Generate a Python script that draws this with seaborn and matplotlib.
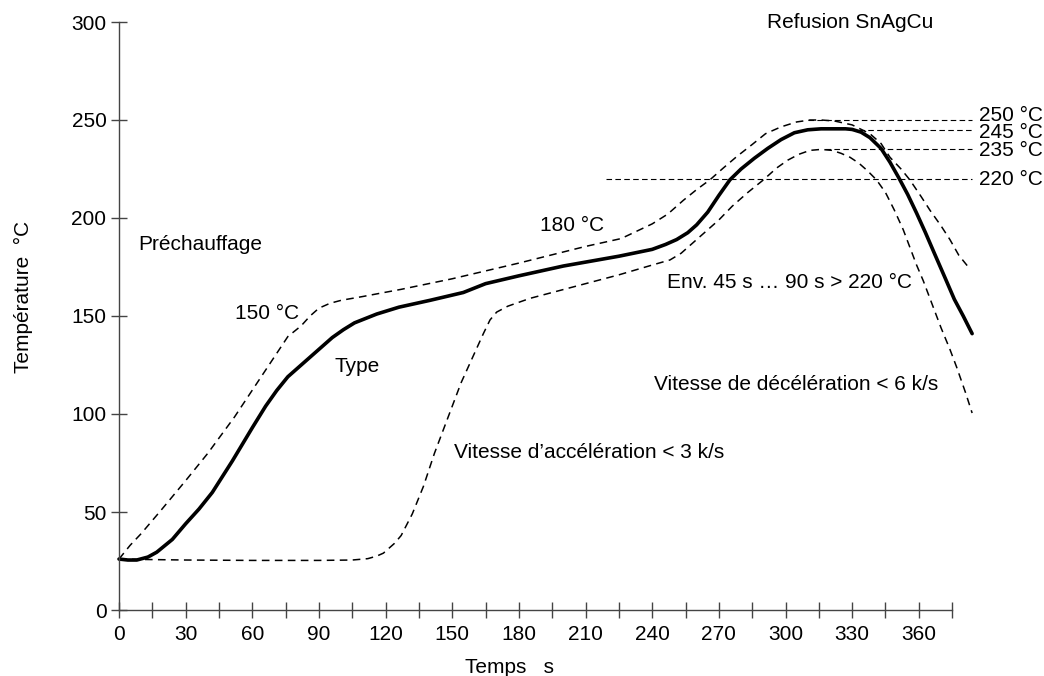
import pandas as pd
import seaborn as sns
import matplotlib.pyplot as plt

# temperature profile values (time s, temperature °C)
type_t = [0, 4, 8, 13, 17, 24, 30, 36, 42, 51, 60, 66, 71, 76, 81, 89, 96, 101, 106,
          116, 126, 140, 155, 165, 180, 200, 225, 240, 246, 251, 256, 260, 265, 270,
          275, 280, 286, 292, 298, 304, 310, 316, 322, 327, 330, 334, 338, 343, 347,
          351, 355, 359, 363, 367, 372, 376, 380, 384]
type_temp = [26, 25.5, 25.5, 27, 29.5, 36, 44, 51.5, 60, 76, 93, 104, 112, 119, 124,
             132, 139, 143, 146.5, 151, 154.5, 158, 162, 166.5, 170.5, 175.5, 180.5,
             184, 186.5, 189, 192.5, 196.5, 203, 211.5, 219.5, 225, 230.5, 235.5, 240,
             243.5, 245, 245.5, 245.5, 245.5, 245.2, 243.8, 241, 235.5, 228.5, 220.5,
             212, 202.5, 192.5, 182, 169, 158.5, 150, 141]

upper_t = [0, 5, 10, 19, 30, 40, 52, 64, 76, 82, 86, 90, 95, 100, 110, 118, 127, 150,
           180, 210, 226, 240, 247, 254, 260, 266, 272, 278, 285, 291, 298, 305, 311,
           316, 322, 330, 338, 343, 347, 352, 356, 361, 365, 370, 374, 378, 383]
upper_temp = [26, 33, 39, 51, 66, 80, 98.5, 119, 139.5, 145, 150, 154, 156.5, 158,
              160, 161.7, 163.6, 169, 177, 185.5, 189.5, 197, 202, 209, 214.5, 219.5,
              225.5, 231.3, 237.5, 243, 246.5, 249, 250, 250, 249.5, 247.5, 243, 238,
              231, 225, 219.4, 211, 204, 196, 189, 181, 174]

lower_t = [0, 10, 30, 60, 90, 105, 112, 116, 119, 121, 124, 127, 132, 137, 142, 148,
           154, 160, 164, 167, 170, 175, 185, 200, 225, 240, 248, 253, 258, 264, 270,
           276, 283, 290, 296, 301, 306, 311, 316, 321, 325, 329, 333, 337, 341, 345,
           349, 353, 356, 359, 362, 366, 370, 374, 377, 381, 384]
lower_temp = [26, 25.8, 25.5, 25.3, 25.3, 25.5, 26.2, 27.5, 29, 31, 34, 38, 49, 63,
              80, 98, 116, 131, 141, 148, 152, 155, 159, 163.5, 171, 176, 178.6, 182,
              187, 193, 199, 206, 213, 219.4, 225.5, 229.5, 232.5, 234.5, 235, 234.5,
              233, 231, 228, 224, 219.4, 213, 204, 194, 185, 176, 168, 156, 144, 133,
              124, 111, 100.5]

# reference temperature levels and where their dashed guides run
ref_levels = [250, 245, 235, 220]
ref_start = [310, 329, 318, 219]
ref_end = [384, 384, 384, 384]
ref_labels = ["250 °C", "245 °C", "235 °C", "220 °C"]
ref_label_y = [252.5, 243.5, 234.5, 219.5]

notes = [
    ("Refusion SnAgCu", 291.5, 300),
    ("Préchauffage", 8.5, 186.7),
    ("150 °C", 52, 151.5),
    ("Type", 97, 124),
    ("180 °C", 189.5, 196),
    ("Env. 45 s … 90 s > 220 °C", 246.6, 167),
    ("Vitesse de décélération < 6 k/s", 241, 115.3),
    ("Vitesse d’accélération < 3 k/s", 151, 80.6),
]

FS = 15


def main():
    sns.set_style("ticks")
    plt.rcParams["font.family"] = ["Liberation Sans", "DejaVu Sans"]
    plt.rcParams["font.size"] = FS
    plt.rcParams["text.color"] = "black"
    plt.rcParams["axes.labelcolor"] = "black"

    fig = plt.figure(figsize=(10.44, 6.76), dpi=100)
    ax = fig.add_axes([119 / 1044, 1 - 610 / 676, 922 / 1044, 588 / 676])

    df_type = pd.DataFrame({"t": type_t, "temp": type_temp})
    df_up = pd.DataFrame({"t": upper_t, "temp": upper_temp})
    df_lo = pd.DataFrame({"t": lower_t, "temp": lower_temp})

    # tolerance band (dashed) and typical profile (bold)
    sns.lineplot(data=df_up, x="t", y="temp", sort=False, ax=ax, color="black",
                 lw=1.1, clip_on=False).lines[-1].set_dashes((5, 3.5))
    sns.lineplot(data=df_lo, x="t", y="temp", sort=False, ax=ax, color="black",
                 lw=1.1, clip_on=False).lines[-1].set_dashes((5, 3.5))
    sns.lineplot(data=df_type, x="t", y="temp", sort=False, ax=ax, color="black",
                 lw=2.6, clip_on=False)

    for lvl, x0, x1, lab, ly in zip(ref_levels, ref_start, ref_end, ref_labels, ref_label_y):
        d = pd.DataFrame({"t": [x0, x1], "temp": [lvl, lvl]})
        sns.lineplot(data=d, x="t", y="temp", ax=ax, color="black", lw=0.8,
                     clip_on=False).lines[-1].set_dashes((5, 3))
        ax.text(387, ly, lab, va="center", ha="left", fontsize=FS)

    for txt, x, y in notes:
        ax.text(x, y, txt, va="center", ha="left", fontsize=FS)

    ax.set_xlim(0, 415)
    ax.set_ylim(0, 300)
    ax.set_xticks(range(0, 361, 30))
    ax.set_xticks(range(15, 376, 30), minor=True)
    ax.set_yticks(range(0, 301, 50))
    ax.spines["bottom"].set_bounds(0, 375)
    sns.despine(ax=ax)
    for s in ("left", "bottom"):
        ax.spines[s].set_color("#444444")
        ax.spines[s].set_linewidth(1.0)
    ax.tick_params(axis="both", which="both", direction="inout", length=12,
                   width=1.0, color="#444444", labelsize=FS, labelcolor="black")
    ax.tick_params(axis="x", pad=5)
    ax.tick_params(axis="y", pad=3)

    ax.set_xlabel("Temps   s", fontsize=FS)
    ax.set_ylabel("Température  °C", fontsize=FS)
    ax.xaxis.set_label_coords(0.424, -0.082)
    ax.yaxis.set_label_coords(-0.093, 0.532)

    fig.savefig("out.png", dpi=100)


if __name__ == "__main__":
    main()
